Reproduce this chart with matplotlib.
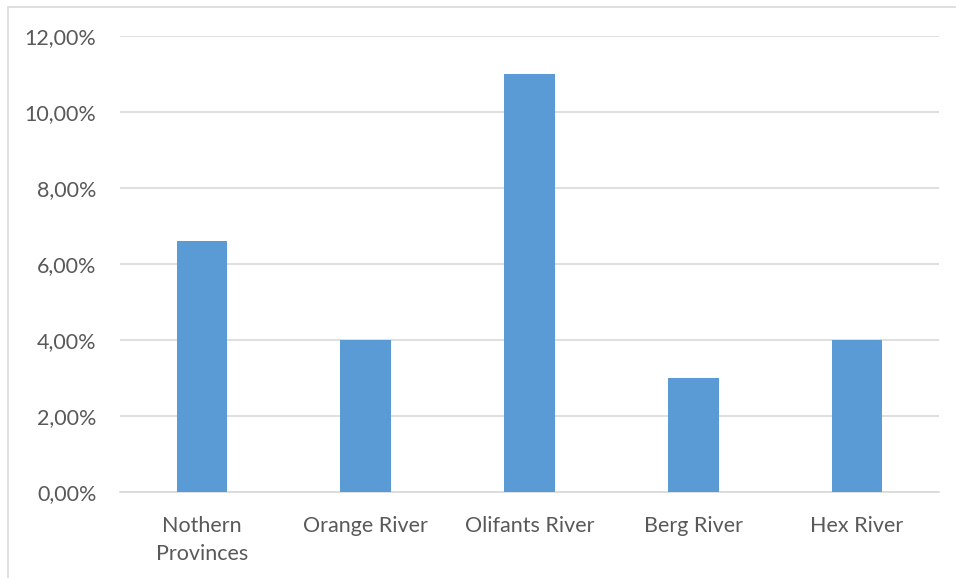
import matplotlib.pyplot as plt
from matplotlib.patches import Rectangle
import numpy as np

# данные
categories = ['Nothern\nProvinces', 'Orange River', 'Olifants River', 'Berg River', 'Hex River']
values = [6.6, 4.0, 11.0, 3.0, 4.0]
yticks = [0, 2, 4, 6, 8, 10, 12]
ytick_labels = ['0,00%', '2,00%', '4,00%', '6,00%', '8,00%', '10,00%', '12,00%']

plt.rcParams['font.family'] = ['Lato', 'DejaVu Sans']

W, H = 956, 578
fig = plt.figure(figsize=(W / 100, H / 100), dpi=100)
ax = fig.add_axes([120 / W, (H - 492) / H, (939 - 120) / W, (492 - 36) / H])

# рамка области диаграммы
fig.patches.append(Rectangle((8 / W, -0.1), 1.2, (H - 7) / H + 0.1,
                             transform=fig.transFigure, fill=False,
                             edgecolor='#D9D9D9', linewidth=1.2))

x = np.arange(len(categories))
ax.bar(x, values, width=0.31, color='#5B9BD5', zorder=3)

ax.set_xlim(-0.5, len(categories) - 0.5)
ax.set_ylim(0, 12)
ax.set_yticks(yticks)
ax.set_yticklabels(ytick_labels)
ax.set_xticks(x)
ax.set_xticklabels(categories, linespacing=1.55)

ax.grid(axis='y', color='#D9D9D9', linewidth=1.2, zorder=0)
for s in ['top', 'right', 'left']:
    ax.spines[s].set_visible(False)
ax.spines['bottom'].set_color('#D9D9D9')
ax.spines['bottom'].set_linewidth(1.2)
ax.tick_params(length=0, labelsize=15.5, colors='#595959')
ax.tick_params(axis='y', pad=17)
ax.tick_params(axis='x', pad=17)

fig.savefig('out.png', dpi=100)
